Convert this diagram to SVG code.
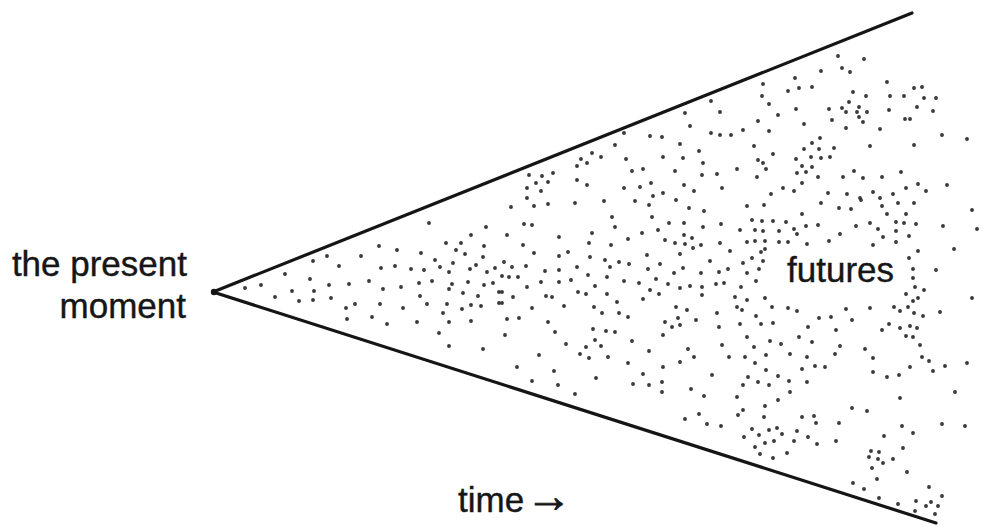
<svg xmlns="http://www.w3.org/2000/svg" width="983" height="527" viewBox="0 0 983 527">
<style>
.lbl{font-family:"Liberation Sans",Arial,Helvetica,sans-serif;font-size:35px;fill:#161616;stroke:#161616;stroke-width:0.4}
.arr{font-size:46px;stroke-width:0.9}
.edge{fill:none;stroke:#151515;stroke-width:3.2;stroke-linecap:round;stroke-linejoin:round}
.dots{fill:none;stroke:#3a3a3a;stroke-width:3.9;stroke-linecap:round}
</style>
<rect width="983" height="527" fill="#ffffff"/>
<g id="cone">
<path class="edge" d="M912,13 L213,292 L936,523"/>
<circle cx="214" cy="292" r="3.2" fill="#151515"/>
</g>
<g id="dots">
<path class="dots" d="M429,223h0M486,227h0M471,235h0M446,243h0M461,243h0M484,246h0M379,246h0M397,250h0M421,253h0M456,250h0M465,254h0M483,257h0M327,256h0M361,256h0M313,261h0M435,260h0M440,267h0M453,263h0M476,265h0M495,268h0M339,266h0M381,268h0M395,266h0M411,269h0M424,270h0M449,272h0M470,269h0M487,272h0M285,274h0M310,279h0M369,281h0M419,283h0M432,281h0M452,284h0M468,282h0M484,285h0M493,283h0M245,288h0M261,285h0M329,285h0M349,284h0M383,289h0M401,287h0M449,289h0M463,293h0M292,291h0M314,291h0M275,297h0M331,298h0M420,296h0M478,296h0M299,301h0M313,300h0M346,308h0M355,304h0M380,304h0M403,308h0M427,304h0M447,304h0M462,309h0M471,305h0M481,306h0M499,303h0M443,313h0M347,319h0M372,317h0M417,322h0M449,322h0M471,321h0M387,324h0M439,333h0M449,346h0M483,349h0M499,292h0"/>
<path class="dots" d="M711,101h0M685,113h0M720,112h0M690,126h0M711,133h0M720,135h0M731,135h0M743,130h0M624,133h0M650,136h0M662,137h0M615,145h0M680,144h0M699,151h0M592,153h0M581,159h0M587,163h0M601,157h0M626,159h0M663,157h0M683,158h0M703,163h0M577,166h0M553,173h0M529,175h0M542,176h0M536,183h0M548,182h0M632,171h0M643,169h0M675,171h0M702,175h0M717,174h0M737,169h0M577,180h0M587,185h0M527,188h0M541,191h0M624,188h0M640,187h0M651,183h0M663,193h0M684,185h0M694,191h0M722,188h0M527,198h0M653,196h0M604,201h0M635,201h0M649,205h0M676,200h0M511,207h0M534,206h0M548,204h0M575,203h0M689,208h0M704,211h0M747,206h0M612,217h0M652,217h0M524,224h0M532,225h0M615,227h0M669,223h0M684,223h0M703,227h0M721,224h0M740,230h0M507,235h0M559,237h0M592,233h0M642,233h0M628,239h0M658,230h0M684,235h0M692,238h0M665,240h0M675,243h0M685,244h0M701,245h0M720,243h0M730,251h0M523,245h0M589,243h0M611,245h0M534,253h0M559,256h0M568,252h0M590,257h0M647,255h0M680,254h0M693,248h0M747,242h0"/>
<path class="dots" d="M605,260h0M619,262h0M629,264h0M660,264h0M710,261h0M743,263h0M504,262h0M512,267h0M526,266h0M545,271h0M559,270h0M577,267h0M610,267h0M648,269h0M674,273h0M683,268h0M701,273h0M719,272h0M728,269h0M747,273h0M502,276h0M509,277h0M518,277h0M541,282h0M559,282h0M571,280h0M588,275h0M607,277h0M624,281h0M639,283h0M656,279h0M668,284h0M680,288h0M690,286h0M702,287h0M716,284h0M724,283h0M741,287h0M527,287h0M578,292h0M586,294h0M607,294h0M650,290h0M659,294h0M702,295h0M735,297h0M747,300h0M502,292h0M513,297h0M546,296h0M552,297h0M595,286h0M617,302h0M643,299h0M502,303h0M532,308h0M564,306h0M594,307h0M602,313h0M619,313h0M628,317h0M676,307h0M687,310h0M717,313h0M737,307h0M742,310h0M507,319h0M519,318h0M548,322h0M593,329h0M606,331h0M615,332h0M665,322h0M672,327h0M678,318h0M680,325h0M696,320h0M719,327h0M740,324h0M505,335h0M555,332h0M663,335h0M566,344h0M586,347h0M595,340h0M601,346h0M632,341h0M649,351h0M688,349h0M722,345h0M747,337h0M539,355h0M580,354h0M589,358h0M608,357h0M628,363h0M680,362h0M694,357h0M729,357h0M745,357h0M517,367h0M554,371h0M663,367h0M643,374h0M712,375h0M748,377h0M532,381h0M558,385h0M596,378h0M633,384h0M649,385h0M662,382h0M662,392h0M691,389h0M704,396h0M737,397h0M743,385h0M575,394h0M699,414h0M685,419h0M707,424h0M721,426h0M738,415h0M743,410h0M744,437h0"/>
<path class="dots" d="M838,56h0M864,59h0M821,71h0M842,68h0M850,72h0M795,78h0M887,82h0M914,88h0M922,87h0M763,84h0M788,91h0M799,88h0M812,87h0M853,92h0M866,96h0M890,96h0M904,96h0M924,98h0M936,98h0M762,96h0M769,104h0M849,102h0M796,109h0M829,109h0M842,108h0M846,112h0M859,107h0M857,112h0M867,112h0M889,110h0M917,107h0M933,111h0M778,115h0M859,117h0M832,120h0M863,122h0M905,119h0M910,119h0M758,121h0M804,124h0M846,128h0M880,129h0M769,131h0M942,135h0M967,139h0M820,138h0M812,143h0M754,146h0M804,149h0M819,149h0M834,148h0M870,146h0M914,145h0M773,154h0M758,160h0M763,163h0M811,157h0M821,158h0M830,157h0M796,159h0M802,166h0M812,167h0M766,169h0M797,173h0M806,172h0M757,177h0M818,177h0M843,177h0M854,171h0M863,178h0M882,177h0M901,172h0M802,183h0M783,188h0M794,191h0M771,194h0M828,193h0M847,194h0M860,198h0M873,192h0M880,198h0M893,194h0M906,188h0M918,184h0M926,191h0M947,185h0"/>
<path class="dots" d="M764,205h0M821,203h0M839,208h0M851,209h0M861,200h0M882,206h0M898,203h0M914,203h0M972,210h0M802,214h0M887,214h0M906,214h0M752,220h0M762,221h0M773,221h0M786,222h0M806,226h0M818,225h0M856,226h0M870,223h0M878,229h0M896,222h0M904,223h0M916,224h0M943,226h0M977,229h0M755,230h0M763,231h0M779,231h0M794,229h0M797,234h0M840,234h0M883,237h0M896,231h0M909,236h0M755,241h0M765,241h0M779,242h0M788,242h0M807,244h0M829,241h0M873,245h0M896,242h0M761,252h0M765,249h0M918,251h0M954,249h0M752,258h0M763,261h0M909,258h0M759,269h0M913,269h0M936,270h0M756,281h0M913,278h0M915,287h0M924,290h0M765,298h0M906,294h0M918,298h0M913,301h0M972,298h0M756,316h0M772,307h0M788,308h0M797,311h0M846,309h0M870,308h0M894,307h0M900,311h0M908,307h0M914,313h0M923,316h0M940,312h0M819,318h0M831,317h0M852,320h0M761,324h0M773,323h0M808,327h0M836,330h0M882,330h0M889,324h0M900,328h0M910,326h0M917,328h0M799,337h0M812,342h0M770,341h0M781,344h0M906,336h0M913,337h0M920,345h0M754,347h0M840,346h0M865,349h0M766,355h0M790,354h0M807,357h0M835,354h0M873,358h0M922,357h0"/>
<path class="dots" d="M755,363h0M766,370h0M802,369h0M815,366h0M825,367h0M910,367h0M929,361h0M933,371h0M945,366h0M967,363h0M873,372h0M887,377h0M899,375h0M758,382h0M769,385h0M778,376h0M789,381h0M807,382h0M790,392h0M778,400h0M900,398h0M955,392h0M765,406h0M852,408h0M867,411h0M764,417h0M802,417h0M814,416h0M816,423h0M839,423h0M902,426h0M913,433h0M942,424h0M965,426h0M752,429h0M759,435h0M769,430h0M777,428h0M782,434h0M797,431h0M774,441h0M765,443h0M794,441h0M808,437h0M817,444h0M836,441h0M884,436h0M903,448h0M755,447h0M760,454h0M773,458h0M787,453h0M871,451h0M879,452h0M869,457h0M878,459h0M883,463h0M893,459h0M872,468h0M907,472h0M877,479h0M853,483h0M864,489h0M879,498h0M898,504h0M929,487h0M942,496h0M916,501h0M926,506h0M931,502h0M938,506h0M915,511h0M935,514h0"/>
</g>
<g id="labels">
<text id="present" class="lbl" text-anchor="end" x="187" y="276">the present</text>
<text class="lbl" text-anchor="end" x="186" y="318">moment</text>
<text id="futures" class="lbl" x="787" y="282">futures</text>
<text id="time" class="lbl" x="458" y="512">time<tspan class="arr" x="526" y="512">→</tspan></text>
</g>
</svg>
